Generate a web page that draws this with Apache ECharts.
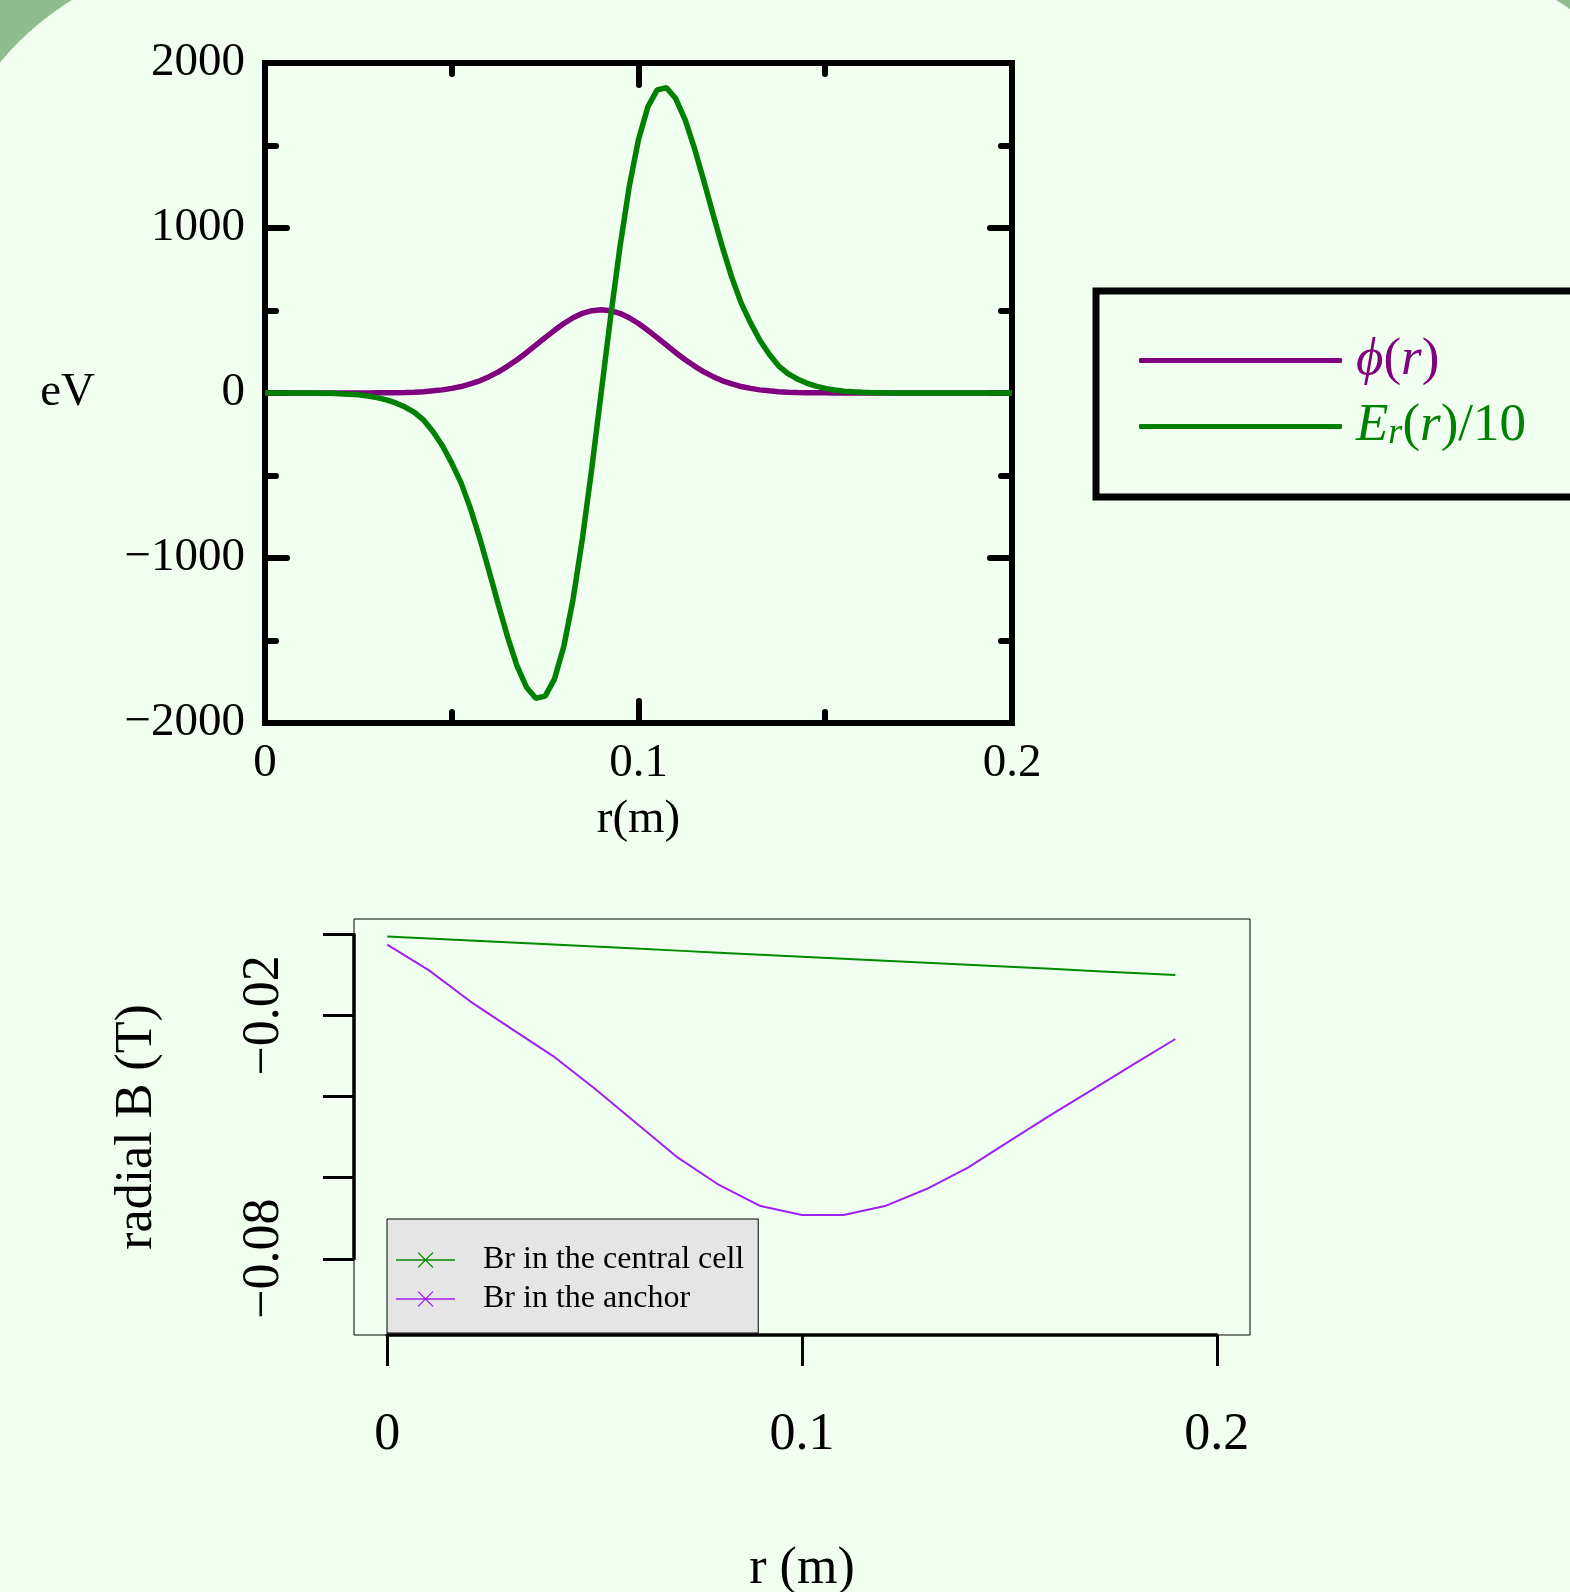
<!DOCTYPE html>
<html>
<head>
<meta charset="utf-8">
<title>phi(r), Er(r) and radial B</title>
<script src="https://cdn.jsdelivr.net/npm/echarts@6/dist/echarts.min.js"></script>
<style>
  html, body { margin: 0; padding: 0; background: #f0fff0; }
  #chart { width: 1570px; height: 1592px; }
</style>
</head>
<body>
<div id="chart"></div>
<script>
// top panel, sampled every 2.5 mm from r = 0 to 0.2 m
const phiTop = [
  0, 0, 0, 0, 0, 0, 0, 0, 0, 0, 0, 0,
  1, 1, 2, 3, 5, 8, 13, 19, 28, 39, 55, 74, 99, 128, 163, 202, 244, 290, 336, 380,
  421, 456, 483, 499, 505, 499, 483, 456, 421, 380, 336, 290, 244, 202, 163, 128,
  99, 74, 55, 39, 28, 19, 13, 8, 5, 3, 2, 1, 1,
  0, 0, 0, 0, 0, 0, 0, 0, 0, 0, 0, 0, 0, 0, 0, 0, 0, 0, 0, 0
];
const erTop = [
  0, 0, 0, 0, 0, 0,
  -1, -2, -4, -7, -11, -18, -28, -42, -60, -85, -118, -165, -235, -320, -425, -545,
  -699, -881, -1080, -1285, -1482, -1655, -1783, -1850, -1837, -1734, -1537, -1248, -880, -455,
  0,
  455, 880, 1248, 1537, 1734, 1837, 1850, 1783, 1655, 1482, 1285, 1080, 881, 699, 545,
  425, 320, 235, 165, 118, 85, 60, 42, 28, 18, 11, 7, 4, 2, 1,
  0, 0, 0, 0, 0, 0, 0, 0, 0, 0, 0, 0, 0, 0
];
const rTop = phiTop.map((_, i) => +(i * 0.0025).toFixed(4));

// bottom panel
const rBottom = [0, 0.01, 0.02, 0.03, 0.04, 0.05, 0.06, 0.07, 0.08, 0.09,
                 0.10, 0.11, 0.12, 0.13, 0.14, 0.15, 0.16, 0.17, 0.18, 0.19];
const brCentral = [-0.0005, -0.001, -0.0015, -0.002, -0.0025, -0.003, -0.0035, -0.004, -0.0045, -0.005,
                   -0.0055, -0.006, -0.0065, -0.007, -0.0075, -0.008, -0.0085, -0.009, -0.0095, -0.010];
const brAnchor = [-0.0025, -0.0088, -0.0165, -0.0233, -0.030, -0.038, -0.0465, -0.055, -0.0618, -0.067,
                  -0.0692, -0.0692, -0.067, -0.0628, -0.0575, -0.051, -0.0445, -0.0383, -0.032, -0.0258];
const bottomYLabelled = [-0.02, -0.08];

const SERIF = 'Liberation Serif';
const PURPLE = '#800080', GREEN = '#008000';
const zip = (xs, ys) => xs.map((x, i) => [x, ys[i]]);
const minus = v => (v < 0 ? '\u2212' + (-v) : String(v));

// bottom data frame (R style, 4% padding around the limits)
const B = { left: 354, top: 919, width: 896, height: 416 };
const bxMin = -0.008, bxMax = 0.208, byMin = -0.0988, byMax = 0.0038;
const bx = v => B.left + (v - bxMin) / (bxMax - bxMin) * B.width;
const by = v => B.top + (byMax - v) / (byMax - byMin) * B.height;

const blackLine = w => ({ onZero: false, lineStyle: { color: '#000', width: w, cap: 'square' } });
const hidden = { axisLine: { show: false, onZero: false }, axisTick: { show: false }, axisLabel: { show: false }, splitLine: { show: false } };

const topX = (pos, labels) => ({
  gridIndex: 0, type: 'value', position: pos, min: 0, max: 0.2, interval: 0.1,
  axisLine: blackLine(6),
  axisTick: { inside: true, length: 22, lineStyle: { color: '#000', width: 6, cap: 'round' } },
  minorTick: { show: true, splitNumber: 2, length: 11, lineStyle: { color: '#000', width: 6, cap: 'round' } },
  splitLine: { show: false },
  axisLabel: { show: labels, fontFamily: SERIF, fontSize: 47, color: '#000', margin: 17,
               formatter: v => String(+v.toFixed(2)) }
});
const topY = (pos, labels) => ({
  gridIndex: 0, type: 'value', position: pos, min: -2000, max: 2000, interval: 1000,
  axisLine: blackLine(6),
  axisTick: { inside: true, length: 22, lineStyle: { color: '#000', width: 6, cap: 'round' } },
  minorTick: { show: true, splitNumber: 2, length: 11, lineStyle: { color: '#000', width: 6, cap: 'round' } },
  splitLine: { show: false },
  axisLabel: { show: labels, fontFamily: SERIF, fontSize: 47, color: '#000', margin: 20, formatter: minus }
});

const chart = echarts.init(document.getElementById('chart'));
chart.setOption({
  animation: false,
  backgroundColor: '#8fbc8f',
  graphic: [{
    type: 'rect', z: -10, silent: true,
    shape: { x: -70, y: -45, width: 1768, height: 2200, r: [300, 300, 0, 0] },
    style: { fill: '#f0fff0' }
  }],
  grid: [
    { left: 265, top: 63, width: 747, height: 660, outerBoundsMode: 'none' },
    { left: B.left, top: B.top, width: B.width, height: B.height, outerBoundsMode: 'none',
      show: true, borderColor: '#000', borderWidth: 1 },
    { left: bx(0), width: bx(0.2) - bx(0), top: B.top, height: B.height, outerBoundsMode: 'none' },
    { left: B.left, width: B.width, top: by(0), height: by(-0.08) - by(0), outerBoundsMode: 'none' }
  ],
  xAxis: [
    Object.assign(topX('bottom', true), {
      name: 'r(m)', nameLocation: 'middle', nameGap: 73,
      nameTextStyle: { fontFamily: SERIF, fontSize: 47, color: '#000' }
    }),
    topX('top', false),
    Object.assign({ gridIndex: 1, type: 'value', min: bxMin, max: bxMax,
      name: 'r (m)', nameLocation: 'middle', nameGap: 208,
      nameTextStyle: { fontFamily: SERIF, fontSize: 52, color: '#000' } }, hidden),
    { gridIndex: 2, type: 'value', position: 'bottom', min: 0, max: 0.2, interval: 0.1,
      axisLine: { onZero: false, lineStyle: { color: '#000', width: 3.5 } },
      axisTick: { length: 31, lineStyle: { color: '#000', width: 3 } },
      splitLine: { show: false },
      axisLabel: { fontFamily: SERIF, fontSize: 52, color: '#000', margin: 74,
                   formatter: v => String(+v.toFixed(2)) } },
    Object.assign({ gridIndex: 3, type: 'value', min: 0, max: 1 }, hidden)
  ],
  yAxis: [
    Object.assign(topY('left', true), {
      name: 'eV', nameLocation: 'middle', nameRotate: 0, nameGap: 170,
      nameTextStyle: { fontFamily: SERIF, fontSize: 47, color: '#000' }
    }),
    topY('right', false),
    Object.assign({ gridIndex: 1, type: 'value', min: byMin, max: byMax,
      name: 'radial B (T)', nameLocation: 'middle', nameRotate: 90, nameGap: 191,
      nameTextStyle: { fontFamily: SERIF, fontSize: 52, color: '#000' } }, hidden),
    Object.assign({ gridIndex: 2, type: 'value', min: 0, max: 1 }, hidden),
    { gridIndex: 3, type: 'value', position: 'left', min: -0.08, max: 0, interval: 0.02,
      axisLine: { onZero: false, lineStyle: { color: '#000', width: 3.5 } },
      axisTick: { length: 31, lineStyle: { color: '#000', width: 3 } },
      splitLine: { show: false },
      axisLabel: { rotate: 90, fontFamily: SERIF, fontSize: 52, color: '#000', margin: 64,
        formatter: v => bottomYLabelled.some(t => Math.abs(t - v) < 1e-9) ? minus(+v.toFixed(2)) : '' } }
  ],
  legend: [
    {
      data: ['ϕ(r)', 'Er(r)/10'], orient: 'vertical', left: 1096, top: 291,
      padding: [43, 400, 44, 43], itemGap: 13, itemWidth: 203, itemHeight: 5, icon: 'roundRect',
      borderColor: '#000', borderWidth: 7, selectedMode: false,
      formatter: n => n === 'ϕ(r)'
        ? '{sp| }{pi|ϕ}{pn|(}{pi|r}{pn|)}'
        : '{sp| }{gi|E}{gs|r}{gn|(}{gi|r}{gn|)/10}',
      textStyle: {
        lineHeight: 50,
        rich: {
          sp: { width: 9, fontSize: 48, lineHeight: 50 },
          pi: { color: PURPLE, fontFamily: SERIF, fontStyle: 'italic', fontSize: 53, lineHeight: 50 },
          pn: { color: PURPLE, fontFamily: SERIF, fontSize: 53, lineHeight: 50 },
          gi: { color: GREEN, fontFamily: SERIF, fontStyle: 'italic', fontSize: 53, lineHeight: 50 },
          gn: { color: GREEN, fontFamily: SERIF, fontSize: 53, lineHeight: 50 },
          gs: { color: GREEN, fontFamily: SERIF, fontStyle: 'italic', fontSize: 36, lineHeight: 28, verticalAlign: 'bottom' }
        }
      }
    },
    {
      data: ['Br in the central cell', 'Br in the anchor'], orient: 'vertical', left: 387, top: 1219,
      padding: [24, 14, 17, 9], itemGap: 5, itemWidth: 59, itemHeight: 16,
      icon: 'path://M0 7.3L60 7.3L60 8.7L0 8.7Z M22 1L23 0L38 15L37 16Z M22 15L37 0L38 1L23 16Z',
      backgroundColor: '#e5e5e5', borderColor: '#000', borderWidth: 1, selectedMode: false,
      textStyle: { fontFamily: SERIF, fontSize: 32, color: '#000', lineHeight: 34, padding: [0, 0, 0, 23] }
    }
  ],
  series: [
    { name: 'ϕ(r)', type: 'line', xAxisIndex: 0, yAxisIndex: 0, data: zip(rTop, phiTop),
      symbol: 'none', itemStyle: { color: PURPLE }, lineStyle: { color: PURPLE, width: 5.5 } },
    { name: 'Er(r)/10', type: 'line', xAxisIndex: 0, yAxisIndex: 0, data: zip(rTop, erTop),
      symbol: 'none', itemStyle: { color: GREEN }, lineStyle: { color: GREEN, width: 5.5 } },
    { name: 'Br in the central cell', type: 'line', xAxisIndex: 2, yAxisIndex: 2, data: zip(rBottom, brCentral),
      symbol: 'none', itemStyle: { color: '#008b00' }, lineStyle: { color: '#008b00', width: 2 } },
    { name: 'Br in the anchor', type: 'line', xAxisIndex: 2, yAxisIndex: 2, data: zip(rBottom, brAnchor),
      symbol: 'none', itemStyle: { color: '#a020f0' }, lineStyle: { color: '#a020f0', width: 2 } }
  ]
});
</script>
</body>
</html>
